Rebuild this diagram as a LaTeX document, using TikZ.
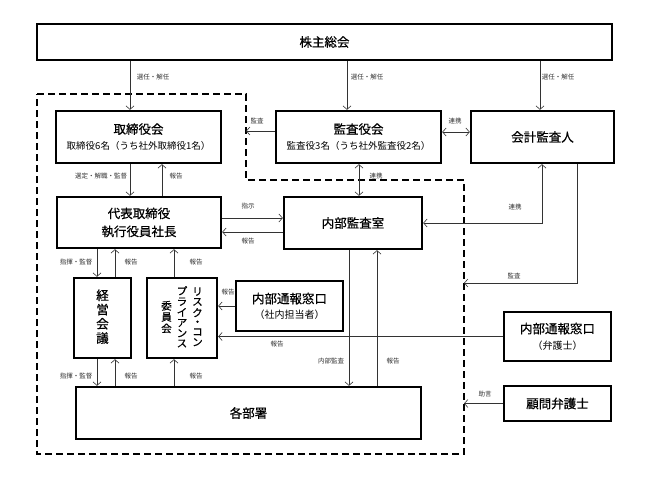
\documentclass[tikz,border=0pt]{standalone}
\usepackage{fontspec}
\setmainfont{Noto Sans CJK JP}
\newfontfamily\boxfont{Noto Sans CJK JP}[FakeBold=0.6]
\usetikzlibrary{arrows.meta}
\tikzset{
	box/.style={draw, line width=2.4pt, inner sep=0pt, align=center, font=\boxfont\fontsize{12.5}{16}\selectfont},
	arr/.style={-{Straight Barb[length=3.5pt,width=8pt]}, line width=0.6pt, draw=black!80},
	darr/.style={{Straight Barb[length=3.5pt,width=8pt]}-{Straight Barb[length=3.5pt,width=8pt]}, line width=0.6pt, draw=black!80},
	lab/.style={font=\fontsize{6.5}{7}\selectfont, inner sep=0pt, text=black!80},
	dashline/.style={line width=1.8pt, dash pattern=on 7pt off 4pt}
}
\newcommand\subline[1]{{\normalfont\fontsize{9.5}{11}\selectfont #1}}
\newcommand\tatecol[1]{\begin{tabular}[c]{@{}c@{}}#1\end{tabular}}

\begin{document}
\begin{tikzpicture}[x=1pt, y=-1pt]
		%%%%% START %%%%%
		
		\fill[white] (0,0) rectangle (647,485);
		\useasboundingbox (0,0) rectangle (647,485);
		
		\draw[dashline] (37,94) -- (246,94) -- (246,180) -- (464,180) -- (464,454) -- (37,454) -- cycle;
		\coordinate (kansaL) at (246,131);
		\coordinate (kansaR) at (464,283);
		
		\node[box, minimum width=575pt, minimum height=36pt] (soukai) at (324.5,42) {株主総会};
		
		\node[box, minimum width=165pt, minimum height=52pt] (torishimari) at (138.5,137) {取締役会\\\subline{取締役6名（うち社外取締役1名）}};
		\node[box, minimum width=165pt, minimum height=52pt] (kansayaku) at (358.5,137) {監査役会\\\subline{監査役3名（うち社外監査役2名）}};
		\node[box, minimum width=143pt, minimum height=52pt] (kaikei) at (542.5,137) {会計監査人};
		
		\node[box, minimum width=164pt, minimum height=51pt, font=\boxfont\fontsize{12.5}{18}\selectfont] (daihyo) at (139,222.5) {代表取締役\\執行役員社長};
		\node[box, minimum width=138pt, minimum height=52pt] (naibu) at (353,223) {内部監査室};
		
		\node[box, minimum width=57pt, minimum height=80pt] (keiei) at (102.5,318) {\renewcommand\arraystretch{0.78}\tatecol{経\\営\\会\\議}};
		\node[box, minimum width=70pt, minimum height=80pt, font=\boxfont\fontsize{10.5}{12}\selectfont] (risk) at (182,318) {\renewcommand\arraystretch{0.75}\setlength\tabcolsep{2.5pt}%
			\begin{tabular}{ccc}\tatecol{委\\員\\会} & \tatecol{プ\\ラ\\イ\\ア\\ン\\ス} & \tatecol{リ\\ス\\ク\\・\\コ\\ン}\end{tabular}};
		\node[box, minimum width=107pt, minimum height=50pt, font=\boxfont\fontsize{12.5}{15}\selectfont] (tsuho1) at (289.5,306) {内部通報窓口\\{\normalfont\fontsize{10}{11}\selectfont （社内担当者）}};
		
		\node[box, minimum width=107pt, minimum height=49pt, font=\boxfont\fontsize{12.5}{16}\selectfont] (tsuho2) at (557.5,336.5) {内部通報窓口\\{\normalfont\fontsize{10}{11}\selectfont （弁護士）}};
		\node[box, minimum width=107pt, minimum height=35pt] (komon) at (557.5,403.5) {顧問弁護士};
		
		\node[box, minimum width=345pt, minimum height=52pt] (kakubu) at (248.5,413) {各部署};
		
		% shareholders
		\draw[arr] (soukai.south -| 130,0) -- (torishimari.north -| 130,0);
		\draw[arr] (soukai.south -| 347,0) -- (kansayaku.north -| 347,0);
		\draw[arr] (soukai.south -| 540,0) -- (kaikei.north -| 540,0);
		\node[lab] (l1) at (153,77) {選任・解任};
		\node[lab] (l2) at (367,77) {選任・解任};
		\node[lab] (l3) at (558,77) {選任・解任};
		
		% audit
		\draw[arr] (kansayaku.west |- kansaL) -- (kansaL);
		\node[lab] (l4) at (257,121) {監査};
		\draw[darr] (kansayaku.east |- 0,132) -- (kaikei.west |- 0,132);
		\node[lab] (l5) at (455,121) {連携};
		\draw[darr] (kansayaku.south -| 359,0) -- (naibu.north -| 359,0);
		\node[lab] (l6) at (376,176) {連携};
		\draw[darr] (kaikei.south -| 542,0) |- (naibu.east);
		\node[lab] (l7) at (515,207) {連携};
		\draw[arr] (kaikei.south -| 577,0) |- (kansaR);
		\node[lab] (l8) at (514,276) {監査};
		
		% board and president
		\draw[arr] (torishimari.south -| 130,0) -- (daihyo.north -| 130,0);
		\node[lab] (l9) at (101,176) {選定・解職・監督};
		\draw[arr] (daihyo.north -| 162,0) -- (torishimari.south -| 162,0);
		\node[lab] (l10) at (176,176) {報告};
		\draw[arr] (daihyo.east |- 0,218) -- (naibu.west |- 0,218);
		\node[lab] (l11) at (248,206) {指示};
		\draw[arr] (naibu.west |- 0,232) -- (daihyo.east |- 0,232);
		\node[lab] (l12) at (248,241) {報告};
		
		% committees
		\draw[arr] (daihyo.south -| 97,0) -- (keiei.north -| 97,0);
		\draw[arr] (keiei.north -| 115,0) -- (daihyo.south -| 115,0);
		\draw[arr] (risk.north -| 174,0) -- (daihyo.south -| 174,0);
		\node[lab] (l13) at (76,262) {指揮・監督};
		\node[lab] (l14) at (131,262) {報告};
		\node[lab] (l15) at (196,262) {報告};
		\draw[arr] (keiei.south -| 97,0) -- (kakubu.north -| 97,0);
		\draw[arr] (kakubu.north -| 115,0) -- (keiei.south -| 115,0);
		\draw[arr] (kakubu.north -| 174,0) -- (risk.south -| 174,0);
		\node[lab] (l16) at (76,376) {指揮・監督};
		\node[lab] (l17) at (131,376) {報告};
		\node[lab] (l18) at (196,376) {報告};
		
		% whistleblowing
		\draw[arr] (tsuho1.west) -- (risk.east |- tsuho1.west);
		\node[lab] (l19) at (228,292) {報告};
		\draw[arr] (tsuho2.west) -- (risk.east |- tsuho2.west);
		\node[lab] (l20) at (277,344) {報告};
		
		% internal audit
		\draw[arr] (naibu.south -| 349,0) -- (kakubu.north -| 349,0);
		\node[lab] (l21) at (331,361) {内部監査};
		\draw[arr] (kakubu.north -| 377,0) -- (naibu.south -| 377,0);
		\node[lab] (l22) at (393,361) {報告};
		
		% lawyer
		\draw[arr] (komon.west) -- (komon.west -| kansaR);
		\node[lab] (l23) at (485,394) {助言};
		
		%%%%% END %%%%%
	\end{tikzpicture}
\end{document}
